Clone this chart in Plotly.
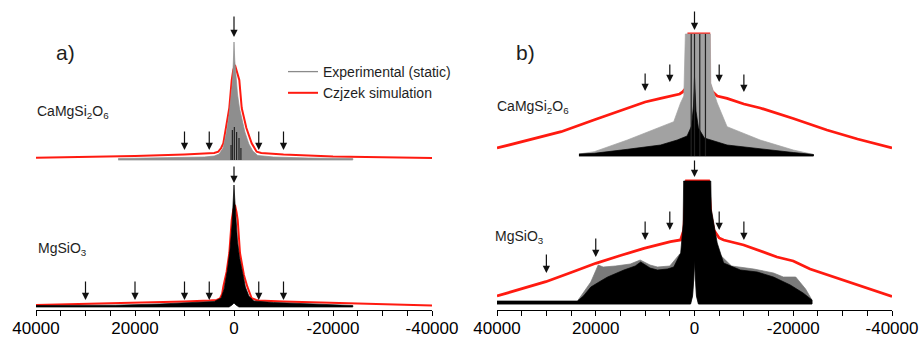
import plotly.graph_objects as go

# the page body margin is removed in the written page (see write_html below)
PAGE_W, PAGE_H, BODY = 922, 338, 0
W, H = PAGE_W - BODY, PAGE_H - BODY

# ---------------- data ----------------
tick_vals = [40000, 20000, 0, -20000, -40000]
tick_text = ["40000", "20000", "0", "-20000", "-40000"]
minor_tick_vals = [35000, 30000, 25000, 15000, 10000, 5000, -5000, -10000,
                   -15000, -25000, -30000, -35000]

# vertical offsets of the stacked spectra (intensity units)
offset_a_top, offset_a_bot = 150, 3
offset_b_top, offset_b_bot = 154, 6

# ---- panel a) CaMgSi2O6 ----
a_top_sim_ppm = [40000, 30000, 20000, 10000, 5500, 4000, 3170, 2600, 2160, 1500, 950, 460, 150,
                 -200, -600, -1070, -1560, -2500, -3570, -4580, -5500, -10000, -20000, -30000, -40000]
a_top_sim_int = [2.3, 3, 4, 5.5, 6.5, 7, 8.3, 12, 16.7, 35, 52, 80, 90,
                 95, 88, 80, 52, 32, 16.7, 8.3, 7, 5.5, 3.5, 2.7, 2]
a_top_exp_ppm = [23400, 15000, 10000, 6000, 4000, 3000, 2200, 1500, 1000, 600, 300, 120, 0,
                 -150, -400, -700, -1100, -1600, -2200, -3000, -3800, -4800, -8000, -15000, -24000]
a_top_exp_int = [1.5, 2, 2.5, 3, 4, 6, 12, 28, 45, 62, 78, 100, 118,
                 100, 80, 66, 52, 40, 28, 16, 9, 4.5, 3, 2, 1.5]
a_top_exp_low_ppm = [23400, -24000]
a_top_exp_low_int = [0, 0]
a_top_spike_ppm = [600, 340, -60, -540, -1010, -1400]
a_top_spike_int = [15, 30, 33, 28, 22, 12]

# ---- panel a) MgSiO3 ----
a_bot_sim_ppm = [40000, 30000, 20000, 10000, 5000, 3500, 2830, 2400, 2160, 1500, 950, 460, 150,
                 -200, -500, -750, -1210, -2000, -2690, -3570, -4500, -5000, -10000, -20000, -30000, -40000]
a_bot_sim_int = [2, 3, 4, 5.5, 6.5, 7, 8.5, 13, 20.3, 35, 54, 87, 97,
                 102, 95, 87, 54, 32, 20.3, 8.7, 7, 6.5, 5.5, 4, 3, 1.5]
a_bot_exp_ppm = [40000, 30000, 24000, 15000, 8000, 4000, 2600, 2000, 1300, 800, 400, 150, 0,
                 -150, -400, -700, -1100, -1600, -2300, -3000, -4000, -8000, -15000, -20000, -24000]
a_bot_exp_int = [1.5, 1.6, 1.8, 3, 4.5, 5.5, 9, 18, 38, 58, 82, 108, 122,
                 108, 84, 66, 50, 36, 20, 11, 6, 4.5, 3, 2, 1.5]
a_bot_exp_low_ppm = [40000, 1000, 400, 0, -400, -1000, -24000]
a_bot_exp_low_int = [0, 0, 2, 4, 2, 0, 0]

# ---- panel b) CaMgSi2O6 (vertical expansion, clipped) ----
b_top_sim_ppm = [40000, 33000, 27000, 20400, 13600, 10000, 6870, 4200, 3000, 2400, 1700, 1300, 1150,
                 -2900, -2950, -3500, -4600, -6600, -10000, -13300, -20000, -26800, -33000, -40000]
b_top_sim_int = [8, 17, 24.3, 36, 47.7, 54, 57.7, 61, 62, 64, 68, 86, 122,
                 122, 73, 65, 60, 57.7, 52, 48, 37.5, 26, 17, 8]
b_top_gray_ppm = [23400, 20300, 13600, 6870, 4200, 2830, 2160, 1850,
                  -3200, -3300, -4600, -6600, -13300, -20000, -24100]
b_top_gray_int = [2, 4.3, 16, 29.3, 34.3, 53, 60, 122,
                  122, 73, 53, 29.3, 16, 6, 1.5]
b_top_black_ppm = [23400, 20300, 13600, 6870, 3500, 1500, 600, 200, 0,
                   -300, -800, -2000, -6600, -13300, -20000, -24100]
b_top_black_int = [2, 2.7, 6.7, 11, 16, 20, 30, 50, 79,
                   45, 28, 18, 11, 7, 3.5, 1.5]
b_top_low_ppm = [23400, -24100]
b_top_low_int = [0, 0]
b_top_spike_ppm = [670, 0, -1070, -2220]
b_top_spike_int = [122, 122, 122, 122]

# ---- panel b) MgSiO3 ----
b_bot_sim_ppm = [40000, 35000, 30100, 25000, 20000, 15000, 10240, 4850, 2830, 2160, 1800, 1620,
                 -2850, -3300, -3900, -5000, -5900, -9960, -16700, -20000, -23400, -30100, -35000, -40000]
b_bot_sim_int = [8, 15, 22.3, 31.5, 40.7, 48.5, 55.7, 62.3, 64, 74, 100, 123,
                 123, 90, 74, 66, 64, 59, 47, 43, 35, 24, 16, 7.5]
b_bot_gray_ppm = [23700, 21000, 19500, 18500, 16000, 13000, 11000, 9000, 7500, 5000, 3000,
                  -5000, -7500, -12000, -16000, -18000, -20500, -22500, -23800]
b_bot_gray_int = [3, 22, 39, 37, 38, 40, 44, 39, 37, 38, 50,
                  50, 38, 35, 31, 27, 27, 15, 4]
b_bot_black_ppm = [40000, 23700, 22500, 21000, 19000, 17600, 14300, 12000, 10900, 9000, 7500, 5500,
                   4200, 2800, 2300, 2200, -3300, -3400, -4600, -5900, -9300, -12700, -16000,
                   -19400, -22000, -23800]
b_bot_black_int = [3, 3, 8, 17, 23, 27, 34, 38, 42, 36, 34, 35,
                   37, 51, 80, 123, 123, 95, 61, 41, 34, 32, 27,
                   19, 11, 4]
b_bot_low_ppm = [40000, 800, 400, 150, 0, -150, -400, -800, -23800]
b_bot_low_int = [0, 0, 8, 25, 44, 25, 8, 0, 0]

# arrows: (ppm, tip intensity above the stack offset)
a_top_arrow_ppm = [0, 10000, 5000, -5000, -10000]
a_top_arrow_int = [123, 10, 10, 10, 10]
a_bot_arrow_ppm = [0, 30000, 20000, 10000, 5000, -5000, -10000]
a_bot_arrow_int = [124, 7, 7, 7, 7, 7, 7]
b_top_arrow_ppm = [0, 10000, 5000, -5000, -10000]
b_top_arrow_int = [126, 65, 74, 74, 64]
b_bot_arrow_ppm = [0, 30000, 20000, 10000, 5000, -5000, -10000]
b_bot_arrow_int = [127, 31, 47, 64, 74, 74, 64]

# ---------------- figure ----------------
RED = "#ff1a10"
fig = go.Figure()


def shift(vals, off):
    return [v + off for v in vals]


def add_line(ppm, inten, off, xa, ya, color, width):
    fig.add_trace(go.Scatter(x=ppm, y=shift(inten, off), mode="lines", xaxis=xa, yaxis=ya,
                             line=dict(color=color, width=width), showlegend=False,
                             hoverinfo="skip"))


def add_band(up_ppm, up_int, lo_ppm, lo_int, off, xa, ya, color, lw=0.7):
    xs = list(up_ppm) + list(lo_ppm)[::-1]
    ys = shift(up_int, off) + shift(lo_int, off)[::-1]
    fig.add_trace(go.Scatter(x=xs, y=ys, mode="lines", fill="toself", fillcolor=color,
                             xaxis=xa, yaxis=ya, line=dict(color=color, width=lw),
                             showlegend=False, hoverinfo="skip"))


def add_spikes(ppm, inten, off, xa, ya, color, width):
    xs, ys = [], []
    for p, v in zip(ppm, inten):
        xs += [p, p, None]
        ys += [off, off + v, None]
    fig.add_trace(go.Scatter(x=xs, y=ys, mode="lines", xaxis=xa, yaxis=ya,
                             line=dict(color=color, width=width), showlegend=False,
                             hoverinfo="skip"))


# panel a
add_line(a_top_sim_ppm, a_top_sim_int, offset_a_top, "x", "y", RED, 2)
add_band(a_top_exp_ppm, a_top_exp_int, a_top_exp_low_ppm, a_top_exp_low_int,
         offset_a_top, "x", "y", "#8e8e8e")
add_spikes(a_top_spike_ppm, a_top_spike_int, offset_a_top, "x", "y", "#111111", 1)
add_line(a_bot_sim_ppm, a_bot_sim_int, offset_a_bot, "x", "y", RED, 2)
add_band(a_bot_exp_ppm, a_bot_exp_int, a_bot_exp_low_ppm, a_bot_exp_low_int,
         offset_a_bot, "x", "y", "#000000")

# panel b
add_line(b_top_sim_ppm, b_top_sim_int, offset_b_top, "x2", "y2", RED, 2.8)
add_band(b_top_gray_ppm, b_top_gray_int, b_top_low_ppm, b_top_low_int,
         offset_b_top, "x2", "y2", "#a2a2a2")
add_band(b_top_black_ppm, b_top_black_int, b_top_low_ppm, b_top_low_int,
         offset_b_top, "x2", "y2", "#000000")
add_spikes(b_top_spike_ppm, b_top_spike_int, offset_b_top, "x2", "y2", "#222222", 1.2)
add_line(b_bot_sim_ppm, b_bot_sim_int, offset_b_bot, "x2", "y2", RED, 2.8)
add_band(b_bot_gray_ppm, b_bot_gray_int, b_bot_low_ppm, b_bot_low_int,
         offset_b_bot, "x2", "y2", "#7a7a7a")
add_band(b_bot_black_ppm, b_bot_black_int, b_bot_low_ppm, b_bot_low_int,
         offset_b_bot, "x2", "y2", "#000000")

# legend entries
fig.add_trace(go.Scatter(x=[None], y=[None], mode="lines", name="Experimental (static)",
                         line=dict(color="#8a8a8a", width=1.3), xaxis="x", yaxis="y"))
fig.add_trace(go.Scatter(x=[None], y=[None], mode="lines", name="Czjzek simulation",
                         line=dict(color=RED, width=2), xaxis="x", yaxis="y"))

# arrows
annotations = []


def add_arrows(ppm, inten, off, xr, yr, center_len, side_len):
    for p, v in zip(ppm, inten):
        annotations.append(dict(x=p, y=v + off, xref=xr, yref=yr, text="", showarrow=True,
                                ax=0, ay=-(center_len if p == 0 else side_len),
                                arrowhead=2, arrowsize=1.2, arrowwidth=1.2,
                                arrowcolor="#111111"))


add_arrows(a_top_arrow_ppm, a_top_arrow_int, offset_a_top, "x", "y", 22, 20)
add_arrows(a_bot_arrow_ppm, a_bot_arrow_int, offset_a_bot, "x", "y", 18, 20)
add_arrows(b_top_arrow_ppm, b_top_arrow_int, offset_b_top, "x2", "y2", 20, 19)
add_arrows(b_bot_arrow_ppm, b_bot_arrow_int, offset_b_bot, "x2", "y2", 18, 20)


# page pixel -> paper fraction
def px(x):
    return (x - BODY) / W


def py(y):
    return 1 - (y - BODY) / H


AXIS_Y = 310  # page pixel of the x-axis line
TOP_Y = 8     # page pixel of the top of the plotting area

LBL = dict(family="Arial, Liberation Sans, sans-serif", size=14, color="#1e1e1e")
texts = [
    ("a)", 65, 52, "center", 21),
    ("b)", 525, 52, "center", 21),
    ("CaMgSi<sub>2</sub>O<sub>6</sub>", 35, 112, "left", 14),
    ("CaMgSi<sub>2</sub>O<sub>6</sub>", 495, 107, "left", 14),
    ("MgSiO<sub>3</sub>", 36, 249, "left", 14),
    ("MgSiO<sub>3</sub>", 493, 237, "left", 14),
]
for t, x, y, anc, fs in texts:
    annotations.append(dict(text=t, x=px(x), y=py(y), xref="paper", yref="paper",
                            xanchor=anc, yanchor="middle", showarrow=False,
                            font=dict(LBL, size=fs)))

xcommon = dict(range=[40000, -40000], tickmode="array", tickvals=tick_vals, ticktext=tick_text,
               ticks="outside", ticklen=5, tickwidth=1, tickcolor="black",
               showline=True, linecolor="black", linewidth=1.2, showgrid=False, zeroline=False,
               ticklabelstandoff=-3,
               tickfont=dict(family="Arial, Liberation Sans, sans-serif", size=17, color="black"),
               minor=dict(tickmode="array", tickvals=minor_tick_vals, ticks="outside",
                          ticklen=5, tickwidth=1, tickcolor="black", showgrid=False),
               automargin=False, fixedrange=True)
ycommon = dict(range=[0, AXIS_Y - TOP_Y], visible=False, domain=[py(AXIS_Y), py(TOP_Y)],
               fixedrange=True)

fig.update_layout(
    width=W, height=H, margin=dict(l=0, r=0, t=0, b=0),
    paper_bgcolor="white", plot_bgcolor="white",
    xaxis=dict(xcommon, domain=[px(36), px(432)], anchor="y"),
    yaxis=dict(ycommon, anchor="x"),
    xaxis2=dict(xcommon, domain=[px(497), px(892)], anchor="y2"),
    yaxis2=dict(ycommon, anchor="x2"),
    annotations=annotations,
    legend=dict(x=px(283), y=py(56), xanchor="left", yanchor="top",
                bgcolor="rgba(0,0,0,0)", font=LBL | dict(size=14), tracegroupgap=0),
    showlegend=True,
)

fig.write_html("out.html", config={"displayModeBar": False},
               post_script="document.body.style.margin='0';document.body.style.overflow='hidden';")
